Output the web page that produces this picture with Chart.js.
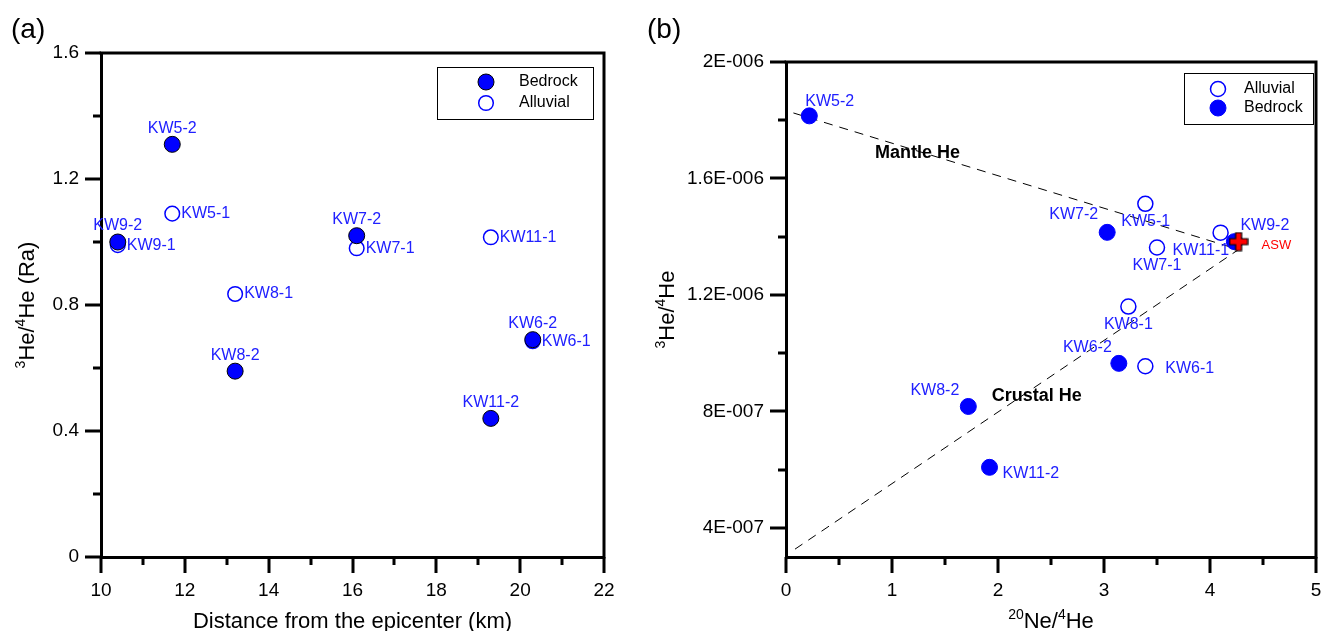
<!DOCTYPE html>
<html>
<head>
<meta charset="utf-8">
<script src="https://cdn.jsdelivr.net/npm/chart.js@4.4.0/dist/chart.umd.min.js"></script>
<style>
  body { margin: 0; background: #fff; }
  #wrap { position: relative; width: 1332px; height: 631px; }
  canvas { position: absolute; top: 0; }
  #chartA { left: 0; }
  #chartB { left: 640px; }
  .panel { position: absolute; top: 14px; font: 28px 'Liberation Sans', Arial, sans-serif; line-height: 30px; }
</style>
</head>
<body>
<div id="wrap">
  <canvas id="chartA" width="666" height="631"></canvas>
  <canvas id="chartB" width="692" height="631"></canvas>
  <div class="panel" style="left:11px">(a)</div>
  <div class="panel" style="left:647px">(b)</div>
</div>
<script>
// panel (a): 3He/4He (Ra) vs distance from the epicenter
const bedrockNamesA = ['KW5-2', 'KW9-2', 'KW8-2', 'KW7-2', 'KW11-2', 'KW6-2'];
const bedrockDistA = [11.7, 10.4, 13.2, 16.1, 19.3, 20.3];
const bedrockRatioA = [1.31, 1.0, 0.59, 1.02, 0.44, 0.69];
const alluvialNamesA = ['KW5-1', 'KW9-1', 'KW8-1', 'KW7-1', 'KW11-1', 'KW6-1'];
const alluvialDistA = [11.7, 10.4, 13.2, 16.1, 19.3, 20.3];
const alluvialRatioA = [1.09, 0.99, 0.835, 0.98, 1.015, 0.685];
const xTicksA = [10, 11, 12, 13, 14, 15, 16, 17, 18, 19, 20, 21, 22];
const xTickLabelsA = ['10', '', '12', '', '14', '', '16', '', '18', '', '20', '', '22'];
const yTicksA = [0, 0.2, 0.4, 0.6, 0.8, 1.0, 1.2, 1.4, 1.6];
const yTickLabelsA = ['0', '', '0.4', '', '0.8', '', '1.2', '', '1.6'];
const xTitleA = [{ t: 'Distance from the epicenter (km)' }];
const yTitleA = [{ t: '3', sup: true }, { t: 'He/' }, { t: '4', sup: true }, { t: 'He (Ra)' }];

// panel (b): 3He/4He vs 20Ne/4He
const alluvialNamesB = ['KW5-1', 'KW7-1', 'KW11-1', 'KW8-1', 'KW6-1'];
const alluvialNeB = [3.39, 3.50, 4.10, 3.23, 3.39];
const alluvialHeB = [1.513e-6, 1.363e-6, 1.414e-6, 1.160e-6, 9.55e-7];
const bedrockNamesB = ['KW5-2', 'KW7-2', 'KW9-2', 'KW6-2', 'KW8-2', 'KW11-2'];
const bedrockNeB = [0.22, 3.03, 4.23, 3.14, 1.72, 1.92];
const bedrockHeB = [1.815e-6, 1.415e-6, 1.383e-6, 9.65e-7, 8.17e-7, 6.08e-7];
const aswNeB = [4.27];
const aswHeB = [1.383e-6];
const mantleNe = [0.07, 4.27];
const mantleHe = [1.825e-6, 1.356e-6];
const crustalNe = [0.085, 4.27];
const crustalHe = [3.27e-7, 1.356e-6];
const noteTextB = ['Mantle He', 'Crustal He'];
const noteNeB = [0.84, 1.94];
const noteHeB = [1.688e-6, 8.52e-7];
const xTicksB = [0, 0.5, 1, 1.5, 2, 2.5, 3, 3.5, 4, 4.5, 5];
const xTickLabelsB = ['0', '', '1', '', '2', '', '3', '', '4', '', '5'];
const yTicksB = [4e-7, 6e-7, 8e-7, 1e-6, 1.2e-6, 1.4e-6, 1.6e-6, 1.8e-6, 2e-6];
const yTickLabelsB = ['4E-007', '', '8E-007', '', '1.2E-006', '', '1.6E-006', '', '2E-006'];
const xTitleB = [{ t: '20', sup: true }, { t: 'Ne/' }, { t: '4', sup: true }, { t: 'He' }];
const yTitleB = [{ t: '3', sup: true }, { t: 'He/' }, { t: '4', sup: true }, { t: 'He' }];

const FONT = "'Liberation Sans', Arial, sans-serif";
Chart.defaults.font.family = FONT;
Chart.defaults.color = '#000';

const pts = (xs, ys) => xs.map((x, i) => ({ x, y: ys[i] }));

// frame on top/right plus tick marks (long for labelled, short for minor)
const frame = {
  id: 'frame',
  afterDraw(chart) {
    const { ctx, chartArea: a, scales: { x, y } } = chart;
    ctx.save();
    ctx.strokeStyle = '#000';
    ctx.lineWidth = 3;
    ctx.lineCap = 'square';
    ctx.beginPath();
    ctx.moveTo(a.left, a.top);
    ctx.lineTo(a.right, a.top);
    ctx.lineTo(a.right, a.bottom);
    ctx.stroke();
    ctx.lineCap = 'butt';
    ctx.beginPath();
    x.ticks.forEach(t => {
      const px = Math.round(x.getPixelForValue(t.value));
      ctx.moveTo(px, a.bottom);
      ctx.lineTo(px, a.bottom + (t.label ? 16 : 8));
    });
    y.ticks.forEach(t => {
      const py = Math.round(y.getPixelForValue(t.value));
      ctx.moveTo(a.left, py);
      ctx.lineTo(a.left - (t.label ? 16 : 8), py);
    });
    ctx.stroke();
    ctx.restore();
  }
};

// axis titles with real superscripts
function drawRich(ctx, segs, cx, baseY) {
  const fontOf = s => (s.sup ? '14px ' : '22px ') + FONT;
  let w = 0;
  segs.forEach(s => { ctx.font = fontOf(s); w += ctx.measureText(s.t).width; });
  let x = cx - w / 2;
  segs.forEach(s => {
    ctx.font = fontOf(s);
    ctx.fillText(s.t, x, baseY - (s.sup ? 9 : 0));
    x += ctx.measureText(s.t).width;
  });
}

function titles(xSegs, ySegs) {
  return {
    id: 'titles',
    afterDraw(chart) {
      const { ctx, chartArea: a } = chart;
      ctx.save();
      ctx.fillStyle = '#000';
      ctx.textAlign = 'left';
      ctx.textBaseline = 'alphabetic';
      drawRich(ctx, xSegs, (a.left + a.right) / 2, 627.5);
      ctx.translate(34, (a.top + a.bottom) / 2);
      ctx.rotate(-Math.PI / 2);
      drawRich(ctx, ySegs, 0, 0);
      ctx.restore();
    }
  };
}

const pointLabels = {
  id: 'pointLabels',
  afterDatasetsDraw(chart) {
    const ctx = chart.ctx;
    ctx.save();
    ctx.textBaseline = 'middle';
    chart.data.datasets.forEach((ds, di) => {
      if (!ds.names) return;
      ctx.font = ds.labelFont || '16px ' + FONT;
      ctx.fillStyle = ds.labelColor || '#2020ff';
      chart.getDatasetMeta(di).data.forEach((pt, i) => {
        const [dx, dy, align] = ds.offsets[i];
        ctx.textAlign = align;
        ctx.fillText(ds.names[i], pt.x + dx, pt.y + dy);
      });
    });
    ctx.restore();
  }
};

function boxLegend(box, entries) {
  return {
    id: 'boxLegend',
    afterDraw(chart) {
      const { ctx, chartArea: a } = chart;
      const left = Math.round(a.right - box.right - box.w);
      const top = Math.round(a.top + box.top);
      ctx.save();
      ctx.lineWidth = 1;
      ctx.strokeStyle = '#000';
      ctx.strokeRect(left + 0.5, top + 0.5, box.w, box.h);
      ctx.font = '16px ' + FONT;
      ctx.textBaseline = 'middle';
      ctx.textAlign = 'left';
      entries.forEach((di, row) => {
        const ds = chart.data.datasets[di];
        const cy = top + box.rows[row];
        ctx.beginPath();
        ctx.arc(left + box.markX, cy, ds.pointRadius, 0, Math.PI * 2);
        ctx.fillStyle = ds.backgroundColor;
        ctx.fill();
        ctx.lineWidth = ds.borderWidth;
        ctx.strokeStyle = ds.borderColor;
        ctx.stroke();
        ctx.fillStyle = '#000';
        ctx.fillText(ds.label, left + box.textX, cy);
      });
      ctx.restore();
    }
  };
}

function axis(ticks, labels, min, max, fit) {
  return {
    type: 'linear', min, max,
    afterBuildTicks: s => { s.ticks = ticks.map(v => ({ value: v })); },
    afterFit: fit,
    ticks: { callback: (v, i) => labels[i], autoSkip: false, maxRotation: 0, padding: 6, color: '#000', font: { size: 19 } },
    grid: { drawOnChartArea: false, tickLength: 16, tickColor: 'rgba(0,0,0,0)' },
    border: { width: 3, color: '#000' },
    title: { display: false }
  };
}

// ASW marker: red plus with a black outline
function plusMark() {
  const c = document.createElement('canvas');
  c.width = 20; c.height = 20;
  const g = c.getContext('2d');
  const a = 3, b = 9;
  const p = [[-a, -b], [a, -b], [a, -a], [b, -a], [b, a], [a, a], [a, b], [-a, b], [-a, a], [-b, a], [-b, -a], [-a, -a]];
  g.beginPath();
  p.forEach(([px, py], i) => i ? g.lineTo(10 + px, 10 + py) : g.moveTo(10 + px, 10 + py));
  g.closePath();
  g.fillStyle = '#ff0000';
  g.fill();
  g.lineWidth = 1.2;
  g.strokeStyle = '#000';
  g.stroke();
  return c;
}

const common = {
  responsive: false,
  animation: false,
  events: [],
  devicePixelRatio: 1,
  plugins: { legend: { display: false }, tooltip: { enabled: false } }
};

new Chart(document.getElementById('chartA'), {
  type: 'scatter',
  data: {
    datasets: [
      {
        label: 'Bedrock', data: pts(bedrockDistA, bedrockRatioA),
        names: bedrockNamesA, offsets: bedrockNamesA.map(() => [0, -16, 'center']),
        backgroundColor: '#0000ff', borderColor: '#000', borderWidth: 1, pointRadius: 8, order: 1
      },
      {
        label: 'Alluvial', data: pts(alluvialDistA, alluvialRatioA),
        names: alluvialNamesA, offsets: alluvialNamesA.map(() => [9, 0, 'left']),
        backgroundColor: '#ffffff', borderColor: '#0000ff', borderWidth: 1.5, pointRadius: 7.3, order: 2
      }
    ]
  },
  options: {
    ...common,
    layout: { padding: { top: 53, right: 62, left: 0, bottom: 0 } },
    scales: {
      x: axis(xTicksA, xTickLabelsA, 10, 22, s => { s.height = 74; }),
      y: axis(yTicksA, yTickLabelsA, 0, 1.6, s => { s.width = 101; })
    }
  },
  plugins: [frame, pointLabels, titles(xTitleA, yTitleA),
    boxLegend({ right: 11, top: 14, w: 156, h: 52, markX: 49, textX: 82, rows: [15, 36] }, [0, 1])]
});

const notesB = {
  id: 'notesB',
  afterDatasetsDraw(chart) {
    const { ctx, scales: { x, y } } = chart;
    ctx.save();
    ctx.font = 'bold 18px ' + FONT;
    ctx.fillStyle = '#000';
    ctx.textAlign = 'left';
    ctx.textBaseline = 'middle';
    noteTextB.forEach((t, i) => ctx.fillText(t, x.getPixelForValue(noteNeB[i]), y.getPixelForValue(noteHeB[i])));
    ctx.restore();
  }
};

const dashed = { type: 'line', showLine: true, borderColor: '#000', borderWidth: 1, borderDash: [9, 7], pointRadius: 0, fill: false, order: 5 };

new Chart(document.getElementById('chartB'), {
  type: 'scatter',
  data: {
    datasets: [
      {
        label: 'Alluvial', data: pts(alluvialNeB, alluvialHeB),
        names: alluvialNamesB,
        offsets: [[-24, 18, 'left'], [0, 18, 'center'], [-48, 18, 'left'], [0, 18, 'center'], [20, 2, 'left']],
        backgroundColor: '#ffffff', borderColor: '#0000ff', borderWidth: 1.5, pointRadius: 7.5, order: 3
      },
      {
        label: 'Bedrock', data: pts(bedrockNeB, bedrockHeB),
        names: bedrockNamesB,
        offsets: [[-4, -14, 'left'], [-9, -18, 'right'], [6, -16, 'left'], [-7, -16, 'right'], [-9, -16, 'right'], [13, 6, 'left']],
        backgroundColor: '#0000ff', borderColor: '#0000ff', borderWidth: 1, pointRadius: 8, order: 2
      },
      {
        label: 'ASW', data: pts(aswNeB, aswHeB),
        names: ['ASW'], offsets: [[23, 4, 'left']], labelColor: '#ff0000', labelFont: '13px ' + FONT,
        pointStyle: plusMark(), pointRadius: 9, order: 1
      },
      { ...dashed, label: 'Mantle', data: pts(mantleNe, mantleHe) },
      { ...dashed, label: 'Crustal', data: pts(crustalNe, crustalHe) }
    ]
  },
  options: {
    ...common,
    layout: { padding: { top: 62, right: 16, left: 0, bottom: 0 } },
    scales: {
      x: axis(xTicksB, xTickLabelsB, 0, 5, s => { s.height = 74; }),
      y: axis(yTicksB, yTickLabelsB, 3e-7, 2e-6, s => { s.width = 146; })
    }
  },
  plugins: [frame, pointLabels, notesB, titles(xTitleB, yTitleB),
    boxLegend({ right: 3, top: 11, w: 129, h: 51, markX: 34, textX: 60, rows: [16, 35] }, [0, 1])]
});
</script>
</body>
</html>
